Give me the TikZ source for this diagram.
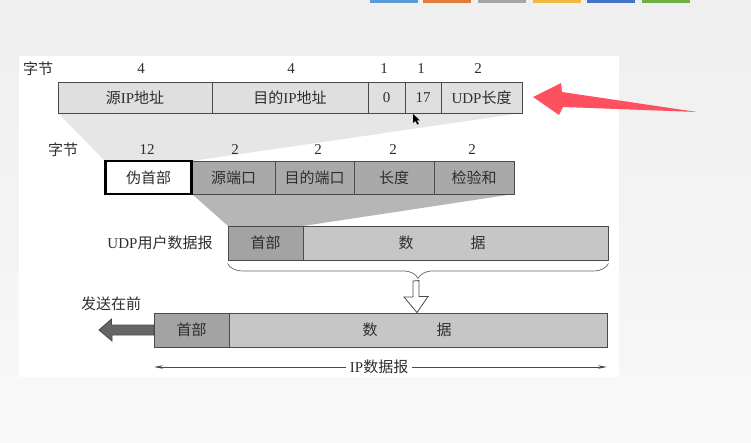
\documentclass[tikz,border=0pt]{standalone}
\usepackage{fontspec}
\setmainfont{Liberation Serif}
\newfontfamily\cjk{Noto Sans CJK SC}
\usetikzlibrary{decorations.pathreplacing,arrows.meta}
\newcommand\zh[1]{{\cjk #1}}

\definecolor{pagebg}{HTML}{EFEFEF}
\definecolor{pagelow}{HTML}{F8F8F8}
\definecolor{ink}{HTML}{2E2E2E}
\definecolor{edge}{HTML}{4A4A4A}
\definecolor{ipfill}{HTML}{DFDFDF}
\definecolor{ipfan}{HTML}{E6E6E6}
\definecolor{udpfill}{HTML}{A9A9A9}
\definecolor{udpfan}{HTML}{B6B6B6}
\definecolor{hdrfill}{HTML}{A3A3A3}
\definecolor{datafill}{HTML}{C6C6C6}
\definecolor{sendfill}{HTML}{666666}
\definecolor{pointer}{RGB}{255,80,96}

\begin{document}
\begin{tikzpicture}[x=1pt,y=-1pt,
  txt/.style={inner sep=0pt, text=ink, font=\fontsize{15}{18}\selectfont},
  field/.style={txt, draw=edge, line width=0.9pt, rectangle},
  iprow/.style={field, fill=ipfill, minimum height=31pt},
  udprow/.style={field, fill=udpfill, minimum height=33pt},
  segrow/.style={field, minimum height=34pt},
  strip/.style={minimum width=48pt, minimum height=3pt, inner sep=0pt}]

% page and white panel
\shade[top color=pagebg, bottom color=pagelow] (0,0) rectangle (751,443);
\fill[pagelow] (0,377) rectangle (751,443);
\fill[white] (19,56) rectangle (619,377);
\useasboundingbox (0,0) rectangle (751,443);

% toolbar strips along the top edge
\foreach \xx/\cc in {394/5B9BD5, 447/E07B39, 502/A5A5A5, 557/F2B843, 611/4472C4, 666/70AD47}{
  \definecolor{stripc}{HTML}{\cc}
  \node[strip, fill=stripc] at (\xx,1.5) {};
}

% fan-out wedges (drawn first, behind the boxes)
\fill[ipfan] (58,113) -- (522,113) -- (192,161) -- (105,161) -- cycle;
\fill[udpfan] (192,194) -- (514,194) -- (303,226) -- (228,226) -- cycle;

% IP pseudo header row
\node[txt] (lblA) at (38,69) {\zh{字节}};
\node[iprow, minimum width=154pt] (srcip) at (135,97.5) {\zh{源}IP\zh{地址}};
\node[iprow, minimum width=156pt] (dstip) at (290,97.5) {\zh{目的}IP\zh{地址}};
\node[iprow, minimum width=37pt] (zero) at (386.5,97.5) {0};
\node[iprow, minimum width=36pt] (proto) at (423,97.5) {17};
\node[iprow, minimum width=81pt] (udplen) at (481.5,97.5) {UDP\zh{长度}};
\node[txt] (nA1) at (141,69) {4};
\node[txt] (nA2) at (291,69) {4};
\node[txt] (nA3) at (384,69) {1};
\node[txt] (nA4) at (421,69) {1};
\node[txt] (nA5) at (478,69) {2};

% UDP header row
\node[txt] (lblB) at (63,150) {\zh{字节}};
\node[udprow, minimum width=83pt] (srcport) at (233.5,177.5) {\zh{源端口}};
\node[udprow, minimum width=79pt] (dstport) at (314.5,177.5) {\zh{目的端口}};
\node[udprow, minimum width=80pt] (ulen) at (394,177.5) {\zh{长度}};
\node[udprow, minimum width=80pt] (cksum) at (474,177.5) {\zh{检验和}};
\node[field, draw=black, line width=2.4pt, fill=white, minimum width=86pt, minimum height=33pt] (pseudo) at (148.5,177.5) {\zh{伪首部}};
\node[txt] (nB1) at (147,150) {12};
\node[txt] (nB2) at (235,150) {2};
\node[txt] (nB3) at (318,150) {2};
\node[txt] (nB4) at (393,150) {2};
\node[txt] (nB5) at (472,150) {2};

% UDP user datagram
\node[txt] (lblC) at (160,243) {UDP\zh{用户数据报}};
\node[segrow, fill=hdrfill, minimum width=75pt] (uhdr) at (265.5,243) {\zh{首部}};
\node[segrow, fill=datafill, minimum width=305pt] (udata) at (455.5,243) {};
\node[txt] (ud1) at (406,243) {\zh{数}};
\node[txt] (ud2) at (478,243) {\zh{据}};

% brace under the UDP datagram
\draw[edge!85, line width=0.7pt, decorate, decoration={brace, mirror, amplitude=15pt}]
  ([yshift=-3pt]uhdr.south west) -- ([yshift=-3pt]udata.south east);
\coordinate (btip) at (417,281);

% IP datagram
\node[segrow, fill=hdrfill, minimum width=75pt] (ihdr) at (191.5,330) {\zh{首部}};
\node[segrow, fill=datafill, minimum width=378pt] (idata) at (418,330) {};
\node[txt] (id1) at (370,330) {\zh{数}};
\node[txt] (id2) at (444,330) {\zh{据}};

% hollow arrow: UDP datagram becomes the IP payload
\draw[edge, line width=0.8pt, fill=white]
  (btip) ++(-4,0) -- ++(0,16) -- ++(-9,0) -- (btip |- idata.north) -- ++(11,-16) -- ++(-9,0) -- ++(0,-16) -- cycle;

% sending direction
\node[txt] (send) at (111,304) {\zh{发送在前}};
\coordinate (sendtip) at (99,330);
\draw[edge, line width=0.8pt, fill=sendfill]
  (ihdr.west) ++(0,-5) -- ++(-42,0) -- ++(0,-6) -- (sendtip) -- ++(13,11) -- ++(0,-6) -- ++(42,0) -- cycle;

% extent of the IP datagram
\coordinate (dimL) at (154,367);
\coordinate (dimR) at (607,367);
\draw[edge, line width=0.8pt, {Stealth[length=9pt,width=3.5pt]}-{Stealth[length=9pt,width=3.5pt]}] (dimL) -- (dimR)
  node[pos=0.497, txt, fill=white, inner xsep=4pt] (ipdg) {IP\zh{数据报}};

% mouse pointer
\fill[black] (413,114) -- (413,123) -- (415.3,121) -- (417.3,124.6) -- (418.8,123.8) -- (416.9,120.3) -- (419.8,120.3) -- cycle;

% red pointer arrow aimed at the UDP length field
\coordinate (ptip) at (533,97);
\fill[pointer] (ptip) -- (561,83) -- (562,92) -- (697,112) -- (563,107) -- (559,115) -- cycle;
\end{tikzpicture}
\end{document}
